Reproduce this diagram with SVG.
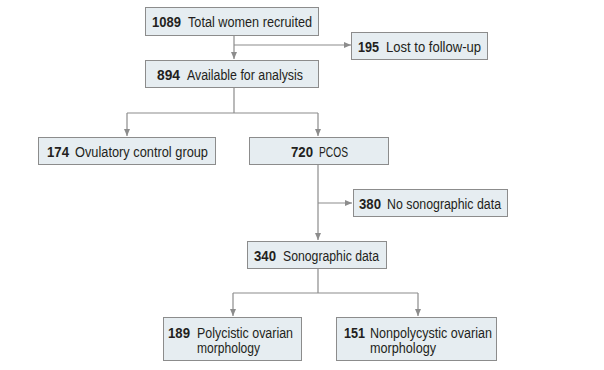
<svg xmlns="http://www.w3.org/2000/svg" width="604" height="370" viewBox="0 0 604 370">
<style>
.box{fill:#e6edf1;stroke:#8c8c8c;stroke-width:1}
.ln{fill:none;stroke:#8c8c8c;stroke-width:1.2}
text{font-family:"Liberation Sans",Arial,sans-serif;font-size:14px;fill:#231f20}
.b{font-weight:bold}
</style>
<defs>
<marker id="ah" markerWidth="7" markerHeight="6" refX="7" refY="3" orient="auto" markerUnits="userSpaceOnUse">
<path d="M0,0 L7,3 L0,6 Z" fill="#8c8c8c"/>
</marker>
</defs>
<rect width="604" height="370" fill="#ffffff"/>
<g id="connectors">
<path class="ln" d="M234,35 V59" marker-end="url(#ah)"/>
<path class="ln" d="M234,45 H351" marker-end="url(#ah)"/>
<path class="ln" d="M234,87 V113 M127,113 H318"/>
<path class="ln" d="M127,113 V136" marker-end="url(#ah)"/>
<path class="ln" d="M318,113 V136" marker-end="url(#ah)"/>
<path class="ln" d="M318,164 V240" marker-end="url(#ah)"/>
<path class="ln" d="M318,203 H352" marker-end="url(#ah)"/>
<path class="ln" d="M318,268 V293 M233,293 H418"/>
<path class="ln" d="M233,293 V316" marker-end="url(#ah)"/>
<path class="ln" d="M418,293 V316" marker-end="url(#ah)"/>
</g>
<g id="n1"><rect class="box" x="145.5" y="7.5" width="173" height="28"/>
<text class="b" x="152" y="27" textLength="29" lengthAdjust="spacingAndGlyphs">1089</text>
<text x="188" y="27" textLength="124" lengthAdjust="spacingAndGlyphs">Total women recruited</text></g>
<g id="n2"><rect class="box" x="351.5" y="32.5" width="136" height="27"/>
<text class="b" x="358" y="51.5" textLength="21" lengthAdjust="spacingAndGlyphs">195</text>
<text x="386" y="51.5" textLength="95" lengthAdjust="spacingAndGlyphs">Lost to follow-up</text></g>
<g id="n3"><rect class="box" x="145.5" y="60.5" width="173" height="27"/>
<text class="b" x="157" y="79.5" textLength="23" lengthAdjust="spacingAndGlyphs">894</text>
<text x="187" y="79.5" textLength="116" lengthAdjust="spacingAndGlyphs">Available for analysis</text></g>
<g id="n4"><rect class="box" x="38.5" y="137.5" width="177" height="27"/>
<text class="b" x="47" y="156.5" textLength="22" lengthAdjust="spacingAndGlyphs">174</text>
<text x="75" y="156.5" textLength="133" lengthAdjust="spacingAndGlyphs">Ovulatory control group</text></g>
<g id="n5"><rect class="box" x="249.5" y="137.5" width="139" height="27"/>
<text class="b" x="291" y="156.5" textLength="22" lengthAdjust="spacingAndGlyphs">720</text>
<text x="319" y="156.5" textLength="29" lengthAdjust="spacingAndGlyphs">PCOS</text></g>
<g id="n6"><rect class="box" x="353.5" y="189.5" width="154" height="27"/>
<text class="b" x="359" y="208.5" textLength="22" lengthAdjust="spacingAndGlyphs">380</text>
<text x="387" y="208.5" textLength="114" lengthAdjust="spacingAndGlyphs">No sonographic data</text></g>
<g id="n7"><rect class="box" x="247.5" y="241.5" width="139" height="27"/>
<text class="b" x="254" y="260.5" textLength="22" lengthAdjust="spacingAndGlyphs">340</text>
<text x="283" y="260.5" textLength="96" lengthAdjust="spacingAndGlyphs">Sonographic data</text></g>
<g id="n8"><rect class="box" x="163.5" y="317.5" width="138" height="43"/>
<text class="b" x="168" y="337.5" textLength="22" lengthAdjust="spacingAndGlyphs">189</text>
<text x="197" y="337.5" textLength="96" lengthAdjust="spacingAndGlyphs">Polycistic ovarian</text>
<text x="197" y="353" textLength="63" lengthAdjust="spacingAndGlyphs">morphology</text></g>
<g id="n9"><rect class="box" x="336.5" y="317.5" width="160" height="43"/>
<text class="b" x="344" y="337.5" textLength="21" lengthAdjust="spacingAndGlyphs">151</text>
<text x="370" y="337.5" textLength="122" lengthAdjust="spacingAndGlyphs">Nonpolycystic ovarian</text>
<text x="370" y="353" textLength="66" lengthAdjust="spacingAndGlyphs">morphology</text></g>
</svg>
